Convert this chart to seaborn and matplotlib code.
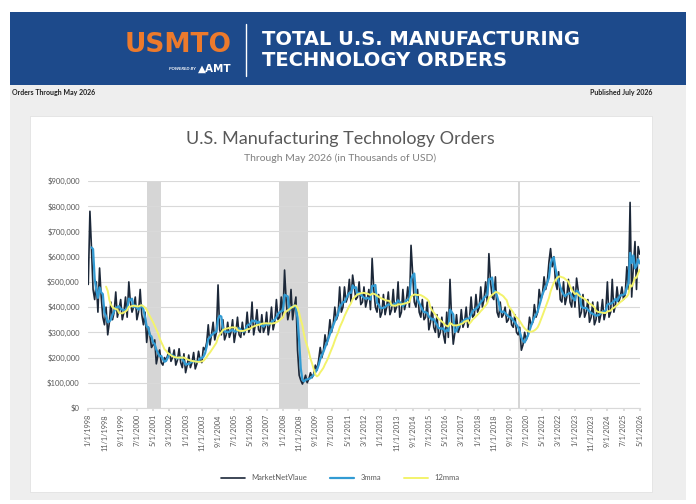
import numpy as np
import pandas as pd
import matplotlib
matplotlib.use("Agg")
import matplotlib.pyplot as plt
import matplotlib.dates as mdates
from matplotlib.patches import Rectangle
from matplotlib.lines import Line2D
from matplotlib.ticker import FuncFormatter, MultipleLocator
import seaborn as sns

# ---------------- data (monthly orders, thousands of USD) ----------------
first_month = "1998-01-01"
orders_1998 = [490000, 780000, 640000, 470000, 430000, 500000, 380000, 555000, 440000, 360000, 330000, 400000]
orders_1999 = [290000, 340000, 420000, 350000, 380000, 460000, 360000, 390000, 430000, 350000, 380000, 440000]
orders_2000 = [360000, 500000, 420000, 380000, 400000, 440000, 350000, 380000, 470000, 370000, 330000, 380000]
orders_2001 = [260000, 320000, 290000, 240000, 250000, 270000, 175000, 210000, 230000, 180000, 170000, 200000]
orders_2002 = [190000, 210000, 240000, 185000, 200000, 230000, 170000, 190000, 235000, 180000, 160000, 215000]
orders_2003 = [140000, 170000, 210000, 160000, 180000, 220000, 155000, 175000, 225000, 190000, 180000, 240000]
orders_2004 = [230000, 260000, 330000, 250000, 290000, 340000, 270000, 300000, 488000, 310000, 290000, 350000]
orders_2005 = [270000, 290000, 340000, 280000, 300000, 350000, 260000, 300000, 360000, 290000, 280000, 340000]
orders_2006 = [290000, 310000, 380000, 300000, 320000, 420000, 290000, 330000, 390000, 310000, 300000, 370000]
orders_2007 = [300000, 320000, 380000, 290000, 330000, 400000, 310000, 340000, 430000, 350000, 360000, 440000]
orders_2008 = [360000, 547000, 430000, 350000, 380000, 470000, 350000, 400000, 440000, 230000, 130000, 110000]
orders_2009 = [95000, 110000, 130000, 100000, 115000, 140000, 120000, 135000, 170000, 150000, 190000, 240000]
orders_2010 = [200000, 230000, 290000, 250000, 280000, 350000, 300000, 330000, 400000, 350000, 370000, 480000]
orders_2011 = [380000, 400000, 480000, 420000, 440000, 510000, 420000, 527000, 480000, 430000, 440000, 500000]
orders_2012 = [410000, 420000, 480000, 400000, 430000, 470000, 390000, 593000, 470000, 400000, 380000, 450000]
orders_2013 = [360000, 380000, 450000, 370000, 400000, 460000, 370000, 390000, 470000, 380000, 400000, 500000]
orders_2014 = [360000, 380000, 470000, 390000, 420000, 480000, 400000, 645000, 534000, 420000, 400000, 470000]
orders_2015 = [380000, 360000, 430000, 350000, 360000, 420000, 310000, 340000, 400000, 320000, 300000, 370000]
orders_2016 = [280000, 300000, 360000, 290000, 257000, 380000, 280000, 510000, 350000, 253000, 300000, 370000]
orders_2017 = [300000, 320000, 390000, 320000, 340000, 400000, 320000, 350000, 440000, 360000, 370000, 450000]
orders_2018 = [380000, 400000, 480000, 400000, 430000, 500000, 420000, 612000, 500000, 440000, 430000, 520000]
orders_2019 = [380000, 360000, 420000, 360000, 370000, 400000, 340000, 350000, 390000, 330000, 320000, 370000]
orders_2020 = [300000, 290000, 320000, 229000, 250000, 300000, 270000, 290000, 360000, 330000, 340000, 410000]
orders_2021 = [360000, 380000, 470000, 430000, 450000, 520000, 470000, 500000, 580000, 632000, 560000, 600000]
orders_2022 = [500000, 470000, 540000, 430000, 420000, 500000, 410000, 440000, 510000, 420000, 400000, 480000]
orders_2023 = [400000, 515000, 470000, 360000, 380000, 450000, 360000, 380000, 430000, 340000, 360000, 420000]
orders_2024 = [330000, 350000, 420000, 340000, 370000, 430000, 350000, 380000, 500000, 360000, 380000, 510000]
orders_2025 = [380000, 410000, 480000, 420000, 440000, 480000, 430000, 450000, 560000, 470000, 815000, 440000]
orders_2026 = [560000, 660000, 470000, 640000, 610000]

recession_starts = ["2001-01-15", "2007-10-15", "2020-01-20"]
recession_ends = ["2001-09-25", "2009-04-10", "2020-03-10"]

series_names = ["MarketNetVlaue", "3mma", "12mma"]
tick_every_months = 10

values = (orders_1998 + orders_1999 + orders_2000 + orders_2001 + orders_2002 + orders_2003 +
          orders_2004 + orders_2005 + orders_2006 + orders_2007 + orders_2008 + orders_2009 +
          orders_2010 + orders_2011 + orders_2012 + orders_2013 + orders_2014 + orders_2015 +
          orders_2016 + orders_2017 + orders_2018 + orders_2019 + orders_2020 + orders_2021 +
          orders_2022 + orders_2023 + orders_2024 + orders_2025 + orders_2026)
dates = pd.date_range(first_month, periods=len(values), freq="MS")
raw = pd.Series(values, index=dates, dtype=float)
df = pd.DataFrame({"date": dates,
                   series_names[0]: raw.values,
                   series_names[1]: raw.rolling(3).mean().values,
                   series_names[2]: raw.rolling(12).mean().values})

# ---------------- figure ----------------
sns.set_theme(style="white")
plt.rcParams["font.family"] = ["Lato", "DejaVu Sans"]

W, H = 696, 504
fig = plt.figure(figsize=(W / 100, H / 100), dpi=100, facecolor="white")

def fx(x):
    return x / W

def fy(y):
    return 1 - y / H

def rect(x0, y0, x1, y1, **kw):
    fig.add_artist(Rectangle((fx(x0), fy(y1)), fx(x1) - fx(x0), fy(y0) - fy(y1),
                             transform=fig.transFigure, **kw))

# header band
rect(10, 12, 686, 85, facecolor="#1d4a8b", edgecolor="none", zorder=0)
# gray page area and white chart panel
rect(10, 85, 686, 500, facecolor="#eeeeee", edgecolor="none", zorder=0)
rect(30, 116, 652, 492, facecolor="white", edgecolor="#e2e2e2", linewidth=0.6, zorder=0)

# header texts
fig.text(fx(232), fy(45), "USMTO", color="#ec7a2c", fontsize=19, fontweight="black",
         ha="right", va="center", family=["DejaVu Sans"])
fig.text(fx(196), fy(69), "POWERED BY", color="white", fontsize=3.2, fontweight="bold",
         ha="right", va="center", style="italic")
fig.text(fx(232), fy(69), "\u25B2AMT", color="white", fontsize=7.5, fontweight="bold",
         ha="right", va="center", family=["DejaVu Sans"])
fig.add_artist(Line2D([fx(246), fx(246)], [fy(24), fy(76)], color="white", lw=1.0,
                      transform=fig.transFigure))
fig.text(fx(262), fy(40), "TOTAL U.S. MANUFACTURING", color="white", fontsize=14,
         fontweight="heavy", ha="left", va="center", family=["DejaVu Sans"])
fig.text(fx(262), fy(60), "TECHNOLOGY ORDERS", color="white", fontsize=14,
         fontweight="heavy", ha="left", va="center", family=["DejaVu Sans"])
fig.text(fx(12), fy(92), "Orders Through May 2026", color="#222222", fontsize=5,
         fontweight="bold", ha="left", va="center")
fig.text(fx(652), fy(92), "Published July 2026", color="#222222", fontsize=5,
         fontweight="bold", ha="right", va="center")

# chart titles
fig.text(fx(340), fy(139), "U.S. Manufacturing Technology Orders", color="#595959",
         fontsize=13, ha="center", va="center")
fig.text(fx(340), fy(158), "Through May 2026 (in Thousands of USD)", color="#7f7f7f",
         fontsize=7.5, ha="center", va="center")

# axes
ax = fig.add_axes([fx(88), fy(408), fx(640) - fx(88), fy(181) - fy(408)])
ax.set_facecolor("none")

for s, e in zip(recession_starts, recession_ends):
    ax.axvspan(pd.Timestamp(s), pd.Timestamp(e), color="#d6d6d6", lw=0, zorder=0)

colors = {"MarketNetVlaue": "#1c2839", "3mma": "#329bd3", "12mma": "#f3f36b"}
widths = {"MarketNetVlaue": 1.2, "3mma": 1.6, "12mma": 1.4}
for name in series_names:
    sns.lineplot(data=df, x="date", y=name, ax=ax, color=colors[name],
                 linewidth=widths[name], label=name, zorder=3)

ax.set_ylim(0, 900000)
ax.yaxis.set_major_locator(MultipleLocator(100000))
ax.yaxis.set_major_formatter(FuncFormatter(lambda v, p: f"${v:,.0f}"))
ax.grid(axis="y", color="#d9d9d9", lw=0.8)
ax.set_axisbelow(True)
ax.set_xlim(dates[0] - pd.Timedelta(days=5), dates[-1] + pd.Timedelta(days=5))

tick_dates = dates[::tick_every_months]
ax.set_xticks(tick_dates)
ax.set_xticklabels([f"{d.month}/1/{d.year}" for d in tick_dates], rotation=90,
                   fontsize=5.3, color="#595959")
ax.tick_params(axis="y", labelsize=5.5, labelcolor="#595959", length=0, pad=6)
ax.tick_params(axis="x", length=2.5, color="#d9d9d9", pad=2, bottom=True)
ax.set_xlabel("")
ax.set_ylabel("")
for sp in ["top", "right", "left"]:
    ax.spines[sp].set_visible(False)
ax.spines["bottom"].set_color("#d9d9d9")
ax.spines["bottom"].set_linewidth(0.8)

leg = ax.legend(loc="center", bbox_to_anchor=(fx(340), fy(478)),
                bbox_transform=fig.transFigure, ncol=3, frameon=False,
                fontsize=5.5, handlelength=3.2, columnspacing=3.0, handletextpad=0.8)
for t in leg.get_texts():
    t.set_color("#595959")

fig.savefig("out.png", dpi=100, facecolor="white")
